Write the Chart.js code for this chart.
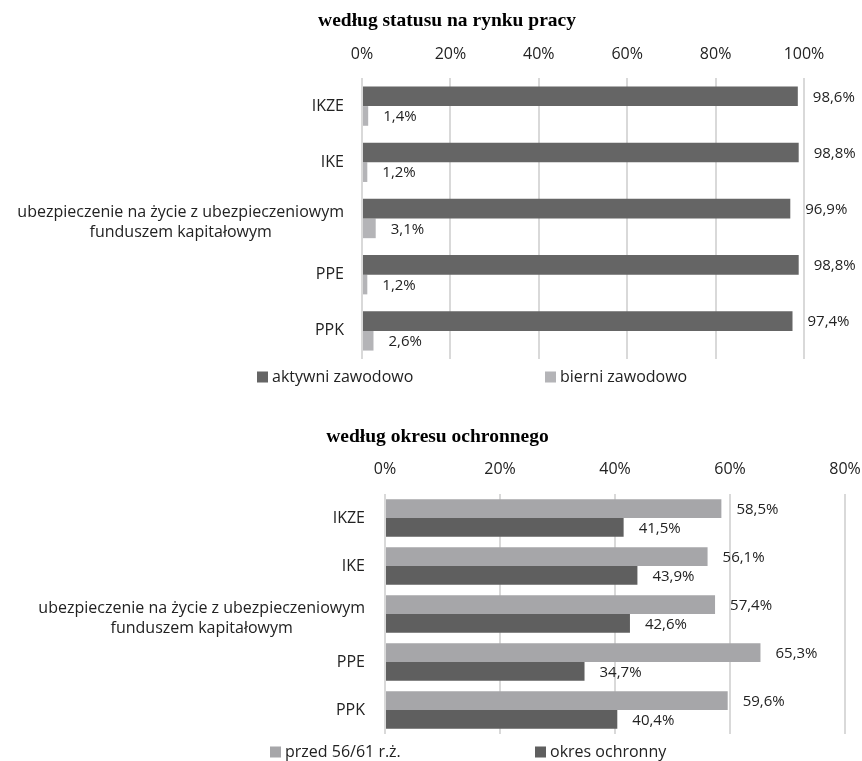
<!DOCTYPE html>
<html>
<head>
<meta charset="utf-8">
<script src="https://cdn.jsdelivr.net/npm/chart.js@4.4.1/dist/chart.umd.min.js"></script>
<style>
  body { margin: 0; background: #fff; }
  #wrap { position: relative; width: 862px; height: 761px; }
  #box1 { position: absolute; left: 0; top: 0; }
  #box2 { position: absolute; left: 0; top: 410px; }
</style>
</head>
<body>
<div id="wrap">
  <div id="box1"><canvas id="chart1" width="862" height="395"></canvas></div>
  <div id="box2"><canvas id="chart2" width="862" height="351"></canvas></div>
</div>
<script>
const kategorie = [
    "IKZE",
    "IKE",
    ["ubezpieczenie na życie z ubezpieczeniowym", "funduszem kapitałowym"],
    "PPE",
    "PPK"
];

// wykres 1: według statusu na rynku pracy
const aktywni = [98.6, 98.8, 96.9, 98.8, 97.4];
const bierni = [1.4, 1.2, 3.1, 1.2, 2.6];

// wykres 2: według okresu ochronnego
const przed = [58.5, 56.1, 57.4, 65.3, 59.6];
const ochronny = [41.5, 43.9, 42.6, 34.7, 40.4];

const tytul1 = "według statusu na rynku pracy";
const tytul2 = "według okresu ochronnego";
const ticks1 = [0, 20, 40, 60, 80, 100];
const ticks2 = [0, 20, 40, 60, 80];

const FONT = "'Open Sans', 'Noto Sans', sans-serif";
const TEXT = "#222222";

// etykiety kategorii (linie wyśrodkowane względem siebie, blok wyrównany do prawej)
const etykietyY = {
    id: "etykietyY",
    afterDraw(chart, args, opts) {
        const ctx = chart.ctx;
        const y = chart.scales.y;
        ctx.save();
        ctx.font = "16px " + FONT;
        ctx.fillStyle = TEXT;
        ctx.textAlign = "center";
        ctx.textBaseline = "middle";
        chart.data.labels.forEach((lab, i) => {
            const linie = Array.isArray(lab) ? lab : [lab];
            const maxW = Math.max(...linie.map(l => ctx.measureText(l).width));
            const cx = opts.right - maxW / 2;
            const cy = y.getPixelForValue(i) + (linie.length > 1 ? 4 : 0);
            linie.forEach((l, k) => {
                ctx.fillText(l, cx, cy + (k - (linie.length - 1) / 2) * 20);
            });
        });
        ctx.restore();
    }
};

// wartości przy słupkach
const wartosci = {
    id: "wartosci",
    afterDatasetsDraw(chart) {
        const ctx = chart.ctx;
        ctx.save();
        ctx.font = "15px " + FONT;
        ctx.fillStyle = TEXT;
        ctx.textAlign = "left";
        ctx.textBaseline = "middle";
        chart.data.datasets.forEach((ds, di) => {
            chart.getDatasetMeta(di).data.forEach((bar, i) => {
                const txt = ds.data[i].toFixed(1).replace(".", ",") + "%";
                ctx.fillText(txt, bar.x + 15, bar.y + 1);
            });
        });
        ctx.restore();
    }
};

// legenda rysowana ręcznie, pozycje jak w oryginale
const legenda = {
    id: "legenda",
    afterDraw(chart, args, opts) {
        const ctx = chart.ctx;
        ctx.save();
        ctx.font = "16px " + FONT;
        ctx.textBaseline = "middle";
        ctx.textAlign = "left";
        chart.data.datasets.forEach((ds, i) => {
            const x = opts.x[i];
            ctx.fillStyle = ds.backgroundColor;
            ctx.fillRect(x, opts.y - 5.5, 11, 11);
            ctx.fillStyle = TEXT;
            ctx.fillText(ds.label, x + 15, opts.y);
        });
        ctx.restore();
    }
};

function zrobWykres(id, tytul, dane, max, ticks, uklad) {
    return new Chart(document.getElementById(id), {
        type: "bar",
        data: { labels: kategorie, datasets: dane },
        options: {
            responsive: false,
            animation: false,
            indexAxis: "y",
            layout: { padding: uklad.padding },
            scales: {
                x: {
                    position: "top",
                    min: 0,
                    max: max,
                    afterBuildTicks: s => { s.ticks = ticks.map(v => ({ value: v })); },
                    afterFit: s => {
                        s.height = uklad.xHeight;
                        // bez dodatkowego marginesu na skrajne etykiety
                        s.paddingLeft = 0;
                        s.paddingRight = 0;
                    },
                    ticks: {
                        padding: uklad.tickPad,
                        color: TEXT,
                        font: { family: FONT, size: 16 },
                        callback: v => v + "%"
                    },
                    grid: { color: "#d9d9d9", lineWidth: 2, drawTicks: false },
                    border: { display: false }
                },
                y: {
                    ticks: { display: false },
                    grid: { display: false },
                    border: { display: false },
                    afterFit: s => { s.width = uklad.yWidth; }
                }
            },
            plugins: {
                legend: { display: false },
                tooltip: { enabled: false },
                title: {
                    display: true,
                    text: tytul,
                    color: "#000",
                    font: { family: "'Liberation Serif', 'Times New Roman', serif", size: 19.5, weight: "bold" },
                    padding: { top: uklad.titleTop, bottom: 0 }
                },
                etykietyY: { right: uklad.labelRight },
                legenda: uklad.legenda
            }
        },
        plugins: [etykietyY, wartosci, legenda]
    });
}

zrobWykres("chart1", tytul1, [
    { label: "aktywni zawodowo", data: aktywni, backgroundColor: "#656565",
      categoryPercentage: 0.7, barPercentage: 1 },
    { label: "bierni zawodowo", data: bierni, backgroundColor: "#b4b4b7",
      categoryPercentage: 0.7, barPercentage: 1 }
], 100, ticks1, {
    padding: { left: 90, right: 58, top: 0, bottom: 36 },
    titleTop: 9.3,
    xHeight: 45.3,
    tickPad: 14.4,
    yWidth: 272,
    labelRight: 344,
    legenda: { x: [257, 545], y: 377 }
});

zrobWykres("chart2", tytul2, [
    { label: "przed 56/61 r.ż.", data: przed, backgroundColor: "#a6a6a9",
      categoryPercentage: 0.78, barPercentage: 1 },
    { label: "okres ochronny", data: ochronny, backgroundColor: "#5f5f5f",
      categoryPercentage: 0.78, barPercentage: 1 }
], 80, ticks2, {
    padding: { left: 30, right: 17, top: 0, bottom: 27 },
    titleTop: 15.3,
    xHeight: 45.3,
    tickPad: 15.4,
    yWidth: 355,
    labelRight: 365,
    legenda: { x: [270, 535], y: 342 }
});
</script>
</body>
</html>
